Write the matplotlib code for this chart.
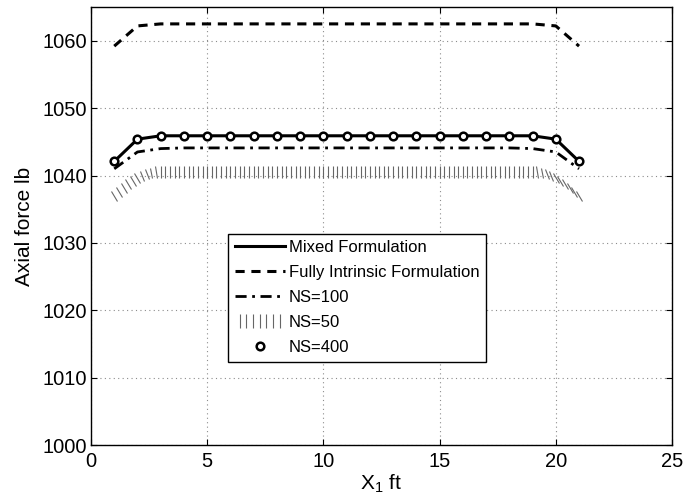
import numpy as np
import matplotlib
matplotlib.use("Agg")
import matplotlib.pyplot as plt
from matplotlib.markers import MarkerStyle
from matplotlib.transforms import Affine2D
from matplotlib.lines import Line2D
from matplotlib.legend_handler import HandlerLine2D

plt.rcParams["font.family"] = ["Liberation Sans", "DejaVu Sans"]
plt.rcParams["mathtext.fontset"] = "custom"
plt.rcParams["mathtext.rm"] = "Liberation Sans"

# nodal positions (ft)
x_nodes = np.arange(1, 22)

mixed = [1042.1, 1045.4, 1045.9, 1045.9, 1045.9, 1045.9, 1045.9, 1045.9, 1045.9, 1045.9, 1045.9,
         1045.9, 1045.9, 1045.9, 1045.9, 1045.9, 1045.9, 1045.9, 1045.9, 1045.4, 1042.1]
intrinsic = [1059.2, 1062.2, 1062.5, 1062.5, 1062.5, 1062.5, 1062.5, 1062.5, 1062.5, 1062.5, 1062.5,
             1062.5, 1062.5, 1062.5, 1062.5, 1062.5, 1062.5, 1062.5, 1062.5, 1062.2, 1059.2]
ns100 = [1041.0, 1043.5, 1044.0, 1044.1, 1044.1, 1044.1, 1044.1, 1044.1, 1044.1, 1044.1, 1044.1,
         1044.1, 1044.1, 1044.1, 1044.1, 1044.1, 1044.1, 1044.1, 1044.0, 1043.5, 1041.0]
ns400 = [1042.1, 1045.4, 1045.9, 1045.9, 1045.9, 1045.9, 1045.9, 1045.9, 1045.9, 1045.9, 1045.9,
         1045.9, 1045.9, 1045.9, 1045.9, 1045.9, 1045.9, 1045.9, 1045.9, 1045.4, 1042.1]

# NS=50 solution is sampled more densely
x50 = np.linspace(1, 21, 101)
ns50 = [1037.0, 1037.5, 1038.1, 1038.7, 1039.2, 1039.7, 1040.0, 1040.3, 1040.45, 1040.55,
        1040.6, 1040.6, 1040.6, 1040.6, 1040.6, 1040.6, 1040.6, 1040.6, 1040.6,
        1040.6, 1040.6, 1040.6, 1040.6, 1040.6, 1040.6, 1040.6, 1040.6, 1040.6,
        1040.6, 1040.6, 1040.6, 1040.6, 1040.6, 1040.6, 1040.6, 1040.6, 1040.6,
        1040.6, 1040.6, 1040.6, 1040.6, 1040.6, 1040.6, 1040.6, 1040.6, 1040.6,
        1040.6, 1040.6, 1040.6, 1040.6, 1040.6, 1040.6, 1040.6, 1040.6, 1040.6,
        1040.6, 1040.6, 1040.6, 1040.6, 1040.6, 1040.6, 1040.6, 1040.6, 1040.6,
        1040.6, 1040.6, 1040.6, 1040.6, 1040.6, 1040.6, 1040.6, 1040.6, 1040.6,
        1040.6, 1040.6, 1040.6, 1040.6, 1040.6, 1040.6, 1040.6, 1040.6, 1040.6,
        1040.6, 1040.6, 1040.6, 1040.6, 1040.6, 1040.6, 1040.6, 1040.6, 1040.6,
        1040.55, 1040.45, 1040.3, 1040.0, 1039.7, 1039.2, 1038.7, 1038.1, 1037.5, 1037.0]

fig = plt.figure(figsize=(7.0, 5.03), dpi=100)
ax = fig.add_axes([0.13, 0.115, 0.83, 0.871])

ax.plot(x_nodes, mixed, color="black", lw=2.2, label="Mixed Formulation")
ax.plot(x_nodes, intrinsic, color="black", lw=2.2, ls=(0, (3, 2.2)), label="Fully Intrinsic Formulation")
ax.plot(x_nodes, ns100, color="black", lw=2.0, ls=(0, (4, 2, 1, 2)), label="NS=100")

# hatched NS=50 curve: short strokes, tilted where the curve bends
slope = np.abs(np.gradient(np.array(ns50), x50))
tilt = 35 * np.clip(slope / 2.0, 0, 1)
for xi, yi, ti in zip(x50, ns50, tilt):
    m = MarkerStyle("|", transform=Affine2D().rotate_deg(ti))
    ax.plot([xi], [yi], ls="none", marker=m, ms=8, mew=0.8, color="0.4")
h50 = Line2D([], [], ls="none", marker="|", ms=10, mew=0.8, color="0.4", label="NS=50")

ax.plot(x_nodes, ns400, ls="none", marker="o", ms=5.5, mew=1.8, mec="black", mfc="white", label="NS=400")

ax.set_xlim(0, 25)
ax.set_ylim(1000, 1065)
ax.set_xticks(np.arange(0, 26, 5))
ax.set_yticks(np.arange(1000, 1061, 10))
ax.grid(True, ls=(0, (1, 3)), color="0.55", lw=0.8)
ax.tick_params(direction="in", top=True, right=True, labelsize=14.5, length=4)
ax.tick_params(axis="x", pad=5)
ax.tick_params(axis="y", pad=3)
for s in ax.spines.values():
    s.set_linewidth(1.0)

ax.set_xlabel(r"X$_{\mathregular{1}}$ ft", fontsize=15, labelpad=1)
ax.set_ylabel("Axial force lb", fontsize=15, labelpad=6)

handles, labels = ax.get_legend_handles_labels()
handles = handles[:3] + [h50] + handles[3:]
leg = ax.legend(handles=handles, loc="lower left", bbox_to_anchor=(0.236, 0.19),
                fontsize=12, frameon=True, fancybox=False, edgecolor="black",
                framealpha=1, handlelength=3.0, handletextpad=0.25, borderpad=0.4,
                labelspacing=0.6, borderaxespad=0,
                handler_map={h50: HandlerLine2D(numpoints=7)})
leg.get_frame().set_linewidth(1.0)

fig.savefig("out.png", dpi=100)
